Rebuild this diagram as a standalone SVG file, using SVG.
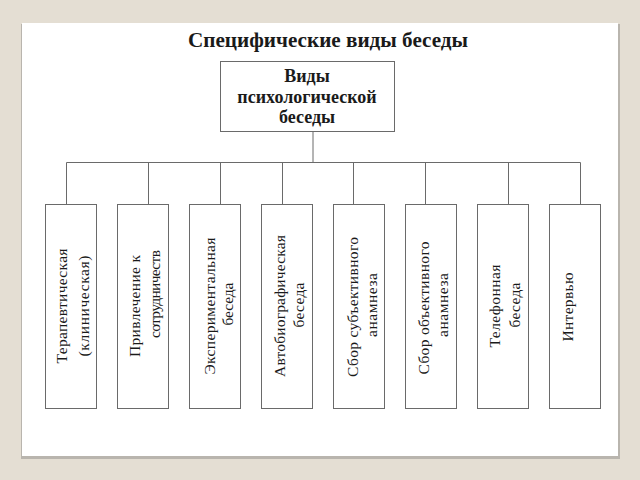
<svg xmlns="http://www.w3.org/2000/svg" width="640" height="480" viewBox="0 0 640 480">
<style>
.box{fill:#fff;stroke:#6a6a6a;stroke-width:1}
.ln{stroke:#6a6a6a;stroke-width:1;fill:none}
.t{font-family:"Liberation Serif","Times New Roman",serif;fill:#1a1a1a}
.v{font-size:15.5px;text-anchor:middle}
.h{font-size:18px;font-weight:bold;text-anchor:middle}
</style>
<rect x="0" y="0" width="640" height="480" fill="#e4ded3"/>
<rect x="21" y="24" width="599" height="435" fill="#b9b5ae"/>
<rect x="22" y="23" width="596" height="433" fill="#ffffff"/>
<text class="t" x="328" y="47" font-size="22" font-weight="bold" text-anchor="middle" textLength="280" lengthAdjust="spacingAndGlyphs">Специфические виды беседы</text>

<g id="connectors">
<line class="ln" x1="313" y1="131" x2="313" y2="162.5"/>
<line class="ln" x1="66.5" y1="162.5" x2="580.5" y2="162.5"/>
<line class="ln" x1="66.5" y1="162.5" x2="66.5" y2="204"/>
<line class="ln" x1="148.5" y1="162.5" x2="148.5" y2="204"/>
<line class="ln" x1="220.5" y1="162.5" x2="220.5" y2="204"/>
<line class="ln" x1="282.5" y1="162.5" x2="282.5" y2="204"/>
<line class="ln" x1="353.5" y1="162.5" x2="353.5" y2="204"/>
<line class="ln" x1="425.5" y1="162.5" x2="425.5" y2="204"/>
<line class="ln" x1="508.5" y1="162.5" x2="508.5" y2="204"/>
<line class="ln" x1="580.5" y1="162.5" x2="580.5" y2="204"/>
</g>

<g id="root">
<rect class="box" x="220.5" y="61.5" width="174" height="70"/>
<text class="t h" x="307" y="82">Виды</text>
<text class="t h" x="307" y="103">психологической</text>
<text class="t h" x="307" y="123">беседы</text>
</g>

<g id="n1">
<rect class="box" x="45.5" y="204.5" width="51" height="204"/>
<g transform="translate(62,306) rotate(-90)"><text class="t v" x="0" y="5" textLength="115" lengthAdjust="spacing">Терапевтическая</text></g>
<g transform="translate(84,306) rotate(-90)"><text class="t v" x="0" y="5" textLength="101" lengthAdjust="spacing">(клиническая)</text></g>
</g>
<g id="n2">
<rect class="box" x="117.5" y="204.5" width="51" height="204"/>
<g transform="translate(135,306) rotate(-90)"><text class="t v" x="0" y="5" textLength="102" lengthAdjust="spacing">Привлечение к</text></g>
<g transform="translate(155,294) rotate(-90)"><text class="t v" x="0" y="5" textLength="88" lengthAdjust="spacing">сотрудничеств</text></g>
</g>
<g id="n3">
<rect class="box" x="189.5" y="204.5" width="51" height="204"/>
<g transform="translate(210,306) rotate(-90)"><text class="t v" x="0" y="5" textLength="137" lengthAdjust="spacing">Экспериментальная</text></g>
<g transform="translate(228,304) rotate(-90)"><text class="t v" x="0" y="5" textLength="43" lengthAdjust="spacing">беседа</text></g>
</g>
<g id="n4">
<rect class="box" x="261.5" y="204.5" width="51" height="204"/>
<g transform="translate(280,306) rotate(-90)"><text class="t v" x="0" y="5" textLength="142" lengthAdjust="spacing">Автобиографическая</text></g>
<g transform="translate(299,305) rotate(-90)"><text class="t v" x="0" y="5" textLength="45" lengthAdjust="spacing">беседа</text></g>
</g>
<g id="n5">
<rect class="box" x="333.5" y="204.5" width="51" height="204"/>
<g transform="translate(353,307) rotate(-90)"><text class="t v" x="0" y="5" textLength="140" lengthAdjust="spacing">Сбор субъективного</text></g>
<g transform="translate(372,305) rotate(-90)"><text class="t v" x="0" y="5" textLength="64" lengthAdjust="spacing">анамнеза</text></g>
</g>
<g id="n6">
<rect class="box" x="405.5" y="204.5" width="51" height="204"/>
<g transform="translate(424,308) rotate(-90)"><text class="t v" x="0" y="5" textLength="133" lengthAdjust="spacing">Сбор объективного</text></g>
<g transform="translate(443,305) rotate(-90)"><text class="t v" x="0" y="5" textLength="64" lengthAdjust="spacing">анамнеза</text></g>
</g>
<g id="n7">
<rect class="box" x="477.5" y="204.5" width="51" height="204"/>
<g transform="translate(495,306) rotate(-90)"><text class="t v" x="0" y="5" textLength="83" lengthAdjust="spacing">Телефонная</text></g>
<g transform="translate(515,305) rotate(-90)"><text class="t v" x="0" y="5" textLength="45" lengthAdjust="spacing">беседа</text></g>
</g>
<g id="n8">
<rect class="box" x="549.5" y="204.5" width="51" height="204"/>
<g transform="translate(568,307) rotate(-90)"><text class="t v" x="0" y="5" textLength="69" lengthAdjust="spacing">Интервью</text></g>
</g>
</svg>
